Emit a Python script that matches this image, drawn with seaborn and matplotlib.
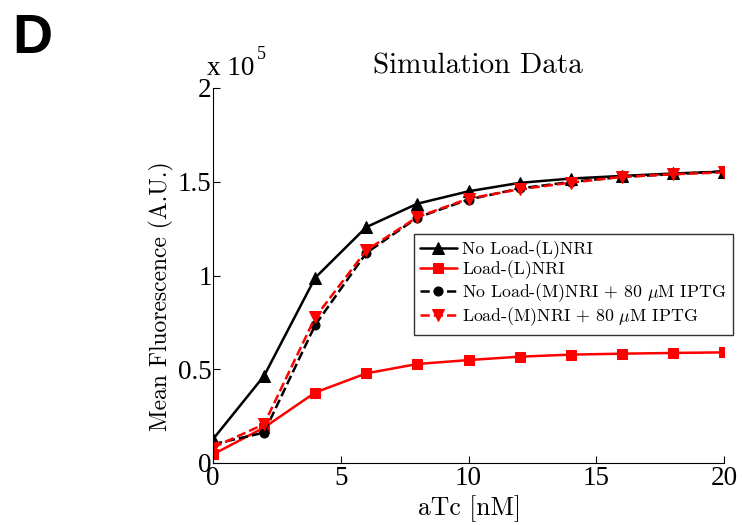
import matplotlib
matplotlib.use("Agg")
import matplotlib.pyplot as plt
import seaborn as sns
import numpy as np

# ---- data (fluorescence in units of 1e5 A.U.) ----
atc = [0, 2, 4, 6, 8, 10, 12, 14, 16, 18, 20]
noload_L = [0.127, 0.465, 0.988, 1.258, 1.383, 1.449, 1.494, 1.517, 1.531, 1.544, 1.554]
load_L = [0.046, 0.189, 0.376, 0.478, 0.528, 0.549, 0.567, 0.578, 0.583, 0.587, 0.590]
noload_M = [0.100, 0.162, 0.736, 1.120, 1.309, 1.405, 1.464, 1.499, 1.526, 1.540, 1.556]
load_M = [0.082, 0.207, 0.777, 1.134, 1.312, 1.410, 1.460, 1.495, 1.526, 1.540, 1.550]
labels = [r"No Load-(L)NRI", r"Load-(L)NRI",
          r"No Load-(M)NRI + 80 $\mu$M IPTG", r"Load-(M)NRI + 80 $\mu$M IPTG"]
xticks = [0, 5, 10, 15, 20]
yticks = [0, 0.5, 1, 1.5, 2]
yticklabels = ["0", "0.5", "1", "1.5", "2"]

sns.set_style("ticks")
plt.rcParams["mathtext.fontset"] = "cm"
plt.rcParams["axes.unicode_minus"] = False
plt.rcParams["text.color"] = "black"
plt.rcParams["axes.labelcolor"] = "black"
plt.rcParams["xtick.color"] = "black"
plt.rcParams["ytick.color"] = "black"

W, H = 742, 525
fig = plt.figure(figsize=(W/100, H/100), dpi=100)
L, R, B, T = 213, 724, 463, 88
ax = fig.add_axes([L/W, 1-B/H, (R-L)/W, (B-T)/H])

styles = [
    (noload_L, "black", "^", "-", 8),
    (load_L, "red", "s", "-", 7),
    (noload_M, "black", "o", "--", 6.5),
    (load_M, "red", "v", "--", 8),
]
for (vals, col, mk, ls, ms), lab in zip(styles, labels):
    sns.lineplot(x=atc, y=vals, ax=ax, color=col, marker=mk, linestyle=ls,
                 linewidth=1.8, markersize=ms, markeredgecolor=col,
                 markerfacecolor=col, label=lab)

ax.set_xlim(0, 20)
ax.set_ylim(0, 2)
ax.set_xticks(xticks)
ax.set_yticks(yticks)
ax.set_xticklabels([str(t) for t in xticks], family="Liberation Serif", fontsize=19.5)
ax.set_yticklabels(yticklabels, family="Liberation Serif", fontsize=19.5)
ax.tick_params(direction="in", length=5, width=0.8, colors="black")
ax.tick_params(axis="x", pad=2)
ax.tick_params(axis="y", pad=1)
for s in ["top", "right"]:
    ax.spines[s].set_visible(False)
for s in ["left", "bottom"]:
    ax.spines[s].set_linewidth(0.8)
    ax.spines[s].set_color("black")

ax.set_xlabel("aTc [nM]", family="cmr10", fontsize=18.5)
ax.xaxis.set_label_coords((470-L)/(R-L), (B-515)/(B-T))
ax.xaxis.label.set_va("baseline")
ax.set_ylabel("Mean Fluorescence (A.U.)", family="cmr10", fontsize=17)
ax.yaxis.set_label_coords((161-L)/(R-L), (B-296)/(B-T))
ax.yaxis.label.set_va("center")

fig.text(478/W, 1-73/H, "Simulation Data", family="cmr10",
         fontsize=21, ha="center", va="baseline")

# offset text
fig.text(207/W, 1-75/H, "x 10", family="Liberation Serif",
         fontsize=19.5, ha="left", va="baseline")
fig.text(257/W, 1-59/H, "5", family="Liberation Serif",
         fontsize=13, ha="left", va="baseline")

fig.text(12/W, 1-53/H, "D", family="Liberation Sans", fontweight="bold",
         fontsize=40, ha="left", va="baseline", color="black")

leg = ax.legend(loc="upper right", bbox_to_anchor=((733-L)/(R-L), (B-234)/(B-T)),
                borderaxespad=0, frameon=True, fancybox=False,
                prop={"family": "cmr10", "size": 12.8}, handlelength=2.1,
                handletextpad=0.3, labelspacing=0.1, borderpad=0.35)
leg.get_frame().set_edgecolor("black")
leg.get_frame().set_linewidth(1.0)

fig.savefig("out.png", dpi=100, facecolor="white")
